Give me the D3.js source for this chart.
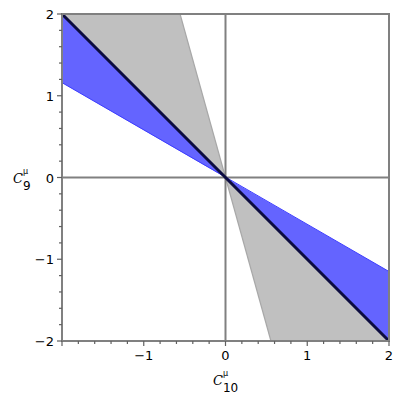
<!DOCTYPE html>
<html>
<head>
<meta charset="utf-8">
<script src="https://cdn.jsdelivr.net/npm/d3@7"></script>
<style>
  body { margin: 0; background: #fff; }
  text { font-family: "DejaVu Sans", sans-serif; fill: #000; }
</style>
</head>
<body>
<svg id="chart" width="400" height="400"></svg>
<script>
// data ranges and ticks
const xDomain = [-2, 2];
const yDomain = [-2, 2];
const xTickLabels = [-1, 0, 1, 2];
const yTickLabels = [-2, -1, 0, 1, 2];
const minorStep = 0.2;

// regions (vertices in data space)
const grayUpper = [[-2, 2], [-0.556, 2], [0, 0]];
const grayLower = [[0, 0], [0.556, -2], [2, -2]];
const blueUpper = [[-2, 2], [0, 0], [-2, 1.16]];
const blueLower = [[0, 0], [2, -2], [2, -1.15]];
// boundary lines
const grayEdge = [[-0.556, 2], [0.556, -2]];
const blueEdge = [[-2, 1.16], [2, -1.15]];
const diagonal = [[-2, 2], [2, -2]];

const margin = { left: 62, right: 11, top: 14, bottom: 59 };
const width = 400 - margin.left - margin.right;
const height = 400 - margin.top - margin.bottom;

const x = d3.scaleLinear().domain(xDomain).range([margin.left, margin.left + width]);
const y = d3.scaleLinear().domain(yDomain).range([margin.top + height, margin.top]);

const svg = d3.select("#chart");
const line = d3.line().x(d => x(d[0])).y(d => y(d[1]));

// gray wedge
[grayUpper, grayLower].forEach(p => {
  svg.append("path").attr("d", line(p) + "Z").attr("fill", "#c0c0c0");
});
svg.append("path").attr("d", line(grayEdge))
  .attr("stroke", "#a8a8a8").attr("stroke-width", 1.2).attr("fill", "none");

// zero lines
svg.append("line")
  .attr("x1", x(0)).attr("x2", x(0)).attr("y1", y(2)).attr("y2", y(-2))
  .attr("stroke", "#808080").attr("stroke-width", 2);
svg.append("line")
  .attr("x1", x(-2)).attr("x2", x(2)).attr("y1", y(0)).attr("y2", y(0))
  .attr("stroke", "#808080").attr("stroke-width", 2);

// blue wedge
[blueUpper, blueLower].forEach(p => {
  svg.append("path").attr("d", line(p) + "Z").attr("fill", "#6464ff");
});
svg.append("path").attr("d", line(blueEdge))
  .attr("stroke", "#3c3cff").attr("stroke-width", 1).attr("fill", "none");

// thick diagonal
svg.append("path").attr("d", line(diagonal))
  .attr("stroke", "#0c0c40").attr("stroke-width", 3).attr("fill", "none");

// frame
svg.append("rect")
  .attr("x", x(-2)).attr("y", y(2))
  .attr("width", x(2) - x(-2)).attr("height", y(-2) - y(2))
  .attr("fill", "none").attr("stroke", "#808080").attr("stroke-width", 2);

// ticks
const minor = d3.range(-2, 2.0001, minorStep).map(v => +v.toFixed(1));
const isMajor = v => Math.abs(v - Math.round(v)) < 1e-6;

svg.append("g").selectAll("line").data(minor).join("line")
  .attr("x1", d => x(d)).attr("x2", d => x(d))
  .attr("y1", y(-2)).attr("y2", d => y(-2) + (isMajor(d) ? 5 : 3))
  .attr("stroke", "#606060").attr("stroke-width", 1.2);
svg.append("g").selectAll("line").data(minor).join("line")
  .attr("y1", d => y(d)).attr("y2", d => y(d))
  .attr("x1", x(-2)).attr("x2", d => x(-2) - (isMajor(d) ? 5 : 3))
  .attr("stroke", "#606060").attr("stroke-width", 1.2);

const fmt = v => v < 0 ? "\u2212" + Math.abs(v) : String(v);

svg.append("g").selectAll("text").data(xTickLabels).join("text")
  .attr("x", d => x(d)).attr("y", y(-2) + 19)
  .attr("text-anchor", "middle").attr("font-size", 13)
  .text(fmt);
svg.append("g").selectAll("text").data(yTickLabels).join("text")
  .attr("x", x(-2) - 8).attr("y", d => y(d) + 5)
  .attr("text-anchor", "end").attr("font-size", 13)
  .text(fmt);

// axis labels: C with mu superscript and number subscript stacked after it
function axisLabel(cx, base, sub) {
  const c = svg.append("text").attr("x", cx).attr("y", base)
    .attr("font-size", 13).attr("font-style", "italic")
    .style("font-family", "DejaVu Serif").text("C");
  const w = c.node().getComputedTextLength();
  svg.append("text").attr("x", cx + w).attr("y", base - 9)
    .attr("font-size", 8).text("\u03bc");
  svg.append("text").attr("x", cx + w).attr("y", base + 7)
    .attr("font-size", 12).text(sub);
}
axisLabel(13, 183, "9");
axisLabel(213, 385, "10");
</script>
</body>
</html>
